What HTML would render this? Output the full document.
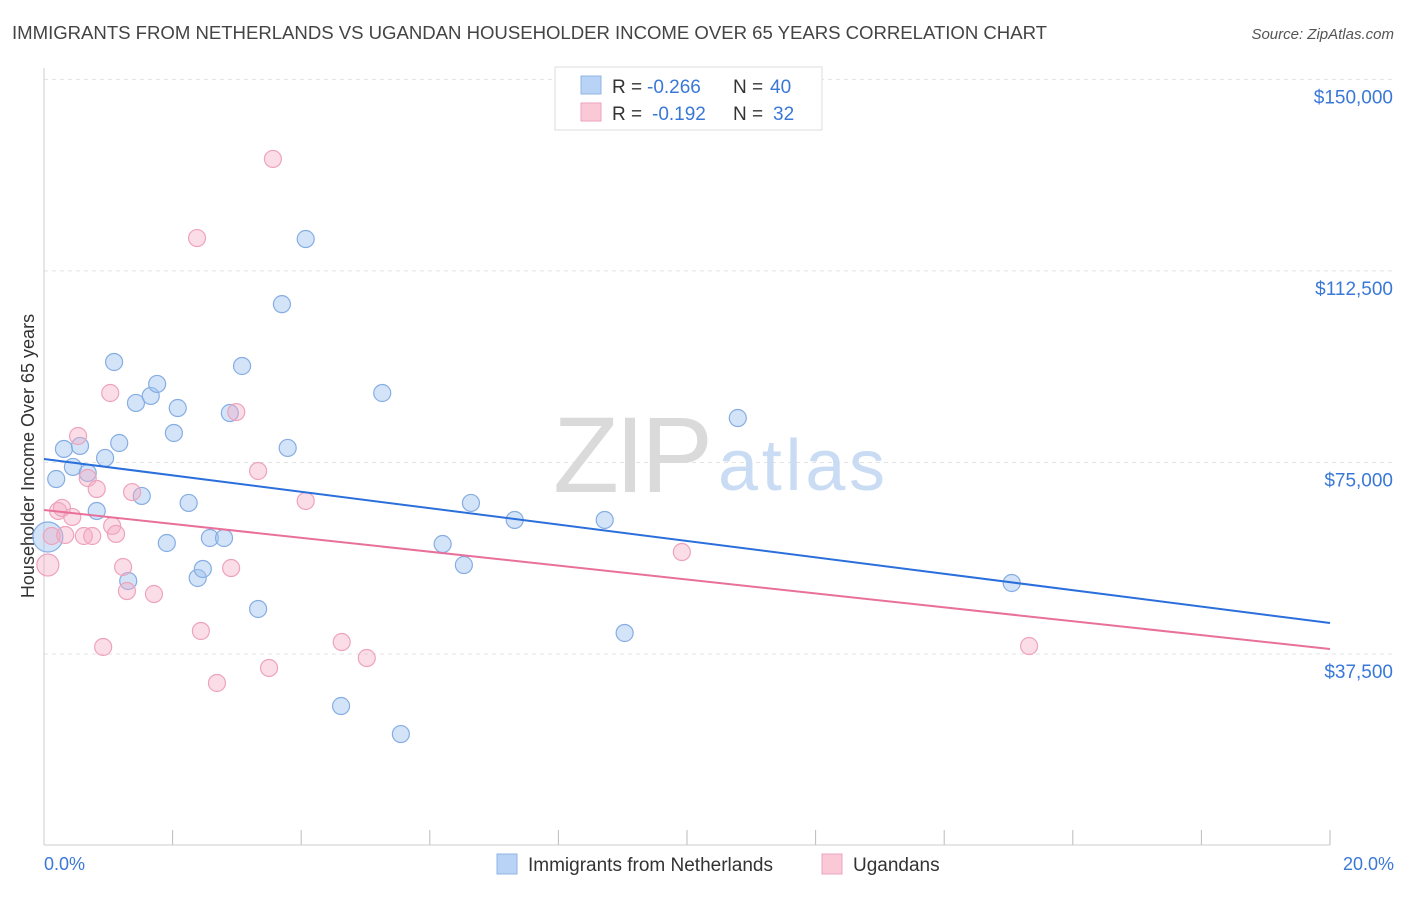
<!DOCTYPE html>
<html><head><meta charset="utf-8"><style>
body{margin:0;background:#fff;font-family:"Liberation Sans",sans-serif}
svg text{font-family:"Liberation Sans",sans-serif}
</style></head><body>
<svg id="chart" width="1406" height="892" viewBox="0 0 1406 892">
<text x="12" y="39" font-size="18.6" fill="#444" textLength="1035">IMMIGRANTS FROM NETHERLANDS VS UGANDAN HOUSEHOLDER INCOME OVER 65 YEARS CORRELATION CHART</text>
<text x="1394" y="39" font-size="15" fill="#555" font-style="italic" text-anchor="end">Source: ZipAtlas.com</text>
<g id="grid"></g>
<line x1="44" y1="68" x2="44" y2="845" stroke="#ccc"/>
<line x1="44" y1="845" x2="1330" y2="845" stroke="#ccc"/>
<text x="553" y="492" font-size="108" fill="#dadada" font-family="Liberation Serif" textLength="160">ZIP</text>
<text x="718" y="490" font-size="72" fill="#c9dcf3" textLength="167">atlas</text>
<text transform="translate(34,456) rotate(-90)" font-size="18" fill="#333" text-anchor="middle">Householder Income Over 65 years</text>
<g id="pts"></g><g id="lines"></g>
<text x="44" y="870" font-size="18" fill="#3a78d8">0.0%</text>
<text x="1394" y="870" font-size="18" fill="#3a78d8" text-anchor="end">20.0%</text>
<g>
<rect x="555" y="67" width="267" height="63" fill="#fff" stroke="#ddd"/>
<rect x="581" y="76" width="20" height="18" fill="#b8d3f5" stroke="#8fb4e6"/>
<rect x="581" y="103" width="20" height="18" fill="#fbc8d8" stroke="#eea3bd"/>
<text x="612" y="93" font-size="19" fill="#333">R =</text>
<text x="647" y="93" font-size="19" fill="#3a78d8">-0.266</text>
<text x="733" y="93" font-size="19" fill="#333">N =</text>
<text x="770" y="93" font-size="19" fill="#3a78d8">40</text>
<text x="612" y="120" font-size="19" fill="#333">R =</text>
<text x="652" y="120" font-size="19" fill="#3a78d8">-0.192</text>
<text x="733" y="120" font-size="19" fill="#333">N =</text>
<text x="773" y="120" font-size="19" fill="#3a78d8">32</text>
</g>
<g>
<rect x="497" y="854" width="20" height="20" fill="#b8d3f5" stroke="#8fb4e6"/>
<text x="528" y="871" font-size="19" fill="#333">Immigrants from Netherlands</text>
<rect x="822" y="854" width="20" height="20" fill="#fbc8d8" stroke="#eea3bd"/>
<text x="853" y="871" font-size="19" fill="#333">Ugandans</text>
</g>
</svg>
<script>
const yTicks=[37500,75000,112500,150000];
const yTickLabels=["$37,500","$75,000","$112,500","$150,000"];
const xTicks=[0,2,4,6,8,10,12,14,16,18,20];
const blueX=[0.06,0.19,0.31,0.45,0.56,0.68,0.82,0.95,1.09,1.17,1.31,1.43,1.52,1.66,1.76,1.91,2.02,2.08,2.25,2.39,2.47,2.58,2.80,2.89,3.08,3.33,3.70,3.79,4.07,4.62,5.26,5.55,6.20,6.53,6.64,7.32,8.72,9.03,10.79,15.05];
const blueY=[60400,71760,77640,74120,78230,72940,65500,75880,94670,78810,51790,86650,68440,88020,90370,59230,80770,85660,67070,52380,54140,60210,60210,84680,93890,46310,106000,77840,118750,27310,88600,21820,59030,54920,67070,63740,63740,41610,83700,51400];
const pinkX=[0.06,0.12,0.22,0.28,0.33,0.44,0.53,0.62,0.68,0.75,0.82,0.92,1.03,1.06,1.12,1.23,1.29,1.37,1.71,2.38,2.44,2.69,2.91,2.99,3.33,3.50,3.56,4.07,4.63,5.02,9.92,15.32];
const pinkY=[54920,60600,65500,66090,60800,64330,80180,60600,71960,60600,69800,38870,88600,62570,61000,54530,49830,69200,49240,118940,42000,31820,54330,84870,73330,34760,134430,67460,39840,36710,57460,39060];
const blueTrend=[75680,43570];
const pinkTrend=[65690,38470];
const NS="http://www.w3.org/2000/svg";
const sx=v=>44+v/20*1286;
const sy=v=>845.5-v/195.8;
function mk(tag,attrs,parent){const e=document.createElementNS(NS,tag);for(const k in attrs)e.setAttribute(k,attrs[k]);document.getElementById(parent).appendChild(e);return e;}
yTicks.forEach((t,i)=>{
 const l=mk('line',{x1:44,x2:1394,y1:sy(t),y2:sy(t),stroke:'#e3e3e3','stroke-dasharray':'4,4'},'grid');
 
 
 const tx=mk('text',{x:1393,y:sy(t)+24,'font-size':19,fill:'#3a78d8','text-anchor':'end'},'grid');
 tx.textContent=yTickLabels[i];
 
 
});
xTicks.forEach(t=>{
 const l=mk('line',{x1:sx(t),x2:sx(t),y1:830,y2:845,stroke:'#bbb'},'grid');
 
 
});
blueX.forEach((x,i)=>{
 const c=mk('circle',{cx:sx(x),cy:sy(blueY[i]),r:i==0?15:8.5,fill:'rgba(160,195,240,0.45)',stroke:'#86ade3','stroke-width':1.2},'pts');
 
 
});
pinkX.forEach((x,i)=>{
 const c=mk('circle',{cx:sx(x),cy:sy(pinkY[i]),r:i==0?11:8.5,fill:'rgba(245,170,195,0.4)',stroke:'#eea3bd','stroke-width':1.2},'pts');
 
 
});
const bl=mk('line',{x1:sx(0),y1:sy(blueTrend[0]),x2:sx(20),y2:sy(blueTrend[1]),stroke:'#2a6fdb','stroke-width':2},'lines');


const pl=mk('line',{x1:sx(0),y1:sy(pinkTrend[0]),x2:sx(20),y2:sy(pinkTrend[1]),stroke:'#e8709a','stroke-width':2},'lines');


</script>
</body></html>
